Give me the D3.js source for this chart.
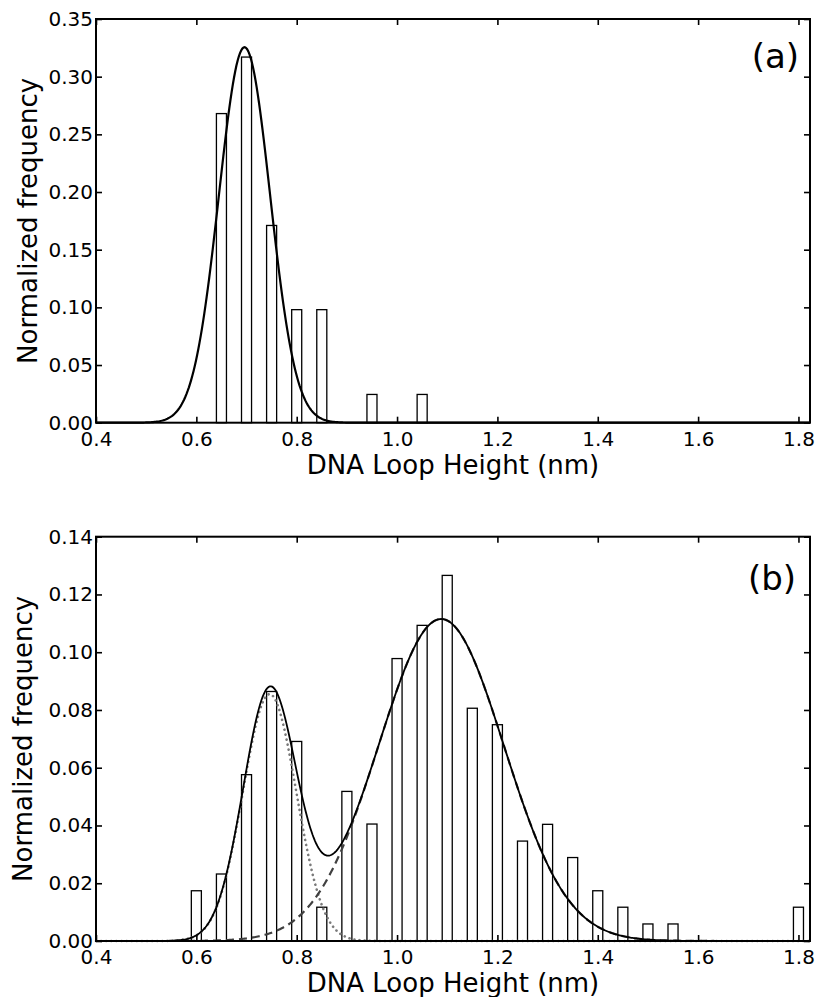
<!DOCTYPE html>
<html>
<head>
<meta charset="utf-8" />
<title>DNA Loop Height histograms</title>
<script src="https://d3js.org/d3.v7.js"></script>
<style>
  body { margin: 0; background: #fff; }
  svg text { font-family: "DejaVu Sans", sans-serif; fill: #000; }
</style>
</head>
<body>
<svg id="chart" width="816" height="997"></svg>
<script>

// ---- data ----
// panel (a): bin centres and normalized frequency
var binsA = [0.65, 0.70, 0.75, 0.80, 0.85, 0.95, 1.05];
var freqA = [0.268, 0.317, 0.171, 0.098, 0.098, 0.0245, 0.0245];
// single gaussian fit (a)
var fitA = {amp: 0.3255, mu: 0.696, sigma: 0.051};

// panel (b)
var binsB = [0.60, 0.65, 0.70, 0.75, 0.80, 0.85, 0.90, 0.95, 1.00, 1.05,
             1.10, 1.15, 1.20, 1.25, 1.30, 1.35, 1.40, 1.45, 1.50, 1.55, 1.80];
var freqB = [0.0174, 0.0232, 0.0576, 0.0864, 0.0691, 0.0117, 0.0518, 0.0405, 0.0978, 0.1093,
             0.1266, 0.0806, 0.0749, 0.0346, 0.0404, 0.0289, 0.0174, 0.0117, 0.0059, 0.0059, 0.0117];
// two gaussian components (b)
var fitB1 = {amp: 0.0855, mu: 0.746, sigma: 0.053};
var fitB2 = {amp: 0.1115, mu: 1.088, sigma: 0.125};

var xTicks = [0.4, 0.6, 0.8, 1.0, 1.2, 1.4, 1.6, 1.8];
var yTicksA = [0, 0.05, 0.10, 0.15, 0.20, 0.25, 0.30, 0.35];
var yTicksB = [0, 0.02, 0.04, 0.06, 0.08, 0.10, 0.12, 0.14];
var barWidth = 0.02;

var svg = d3.select("#chart");

function gauss(p, x) {
  return p.amp * Math.exp(-0.5 * Math.pow((x - p.mu) / p.sigma, 2));
}

function drawPanel(opt) {
  var left = 96, right = 810;
  var x = d3.scaleLinear().domain([0.4, 1.823]).range([left, right]);
  var y = d3.scaleLinear().domain([0, opt.ymax]).range([opt.bottom, opt.top]);
  var g = svg.append("g");

  // bars
  g.selectAll("rect.bar")
    .data(opt.bins)
    .enter()
    .append("rect")
    .attr("class", "bar")
    .attr("x", function(d) { return x(d - barWidth / 2); })
    .attr("width", function(d) { return x(d + barWidth / 2) - x(d - barWidth / 2); })
    .attr("y", function(d, i) { return y(opt.freq[i]); })
    .attr("height", function(d, i) { return y(0) - y(opt.freq[i]); })
    .attr("fill", "#fff")
    .attr("stroke", "#000")
    .attr("stroke-width", 1.3);

  // fitted curves
  var xs = d3.range(0, 601).map(function(i) { return 0.4 + i * (1.823 - 0.4) / 600; });
  opt.curves.forEach(function(c) {
    var line = d3.line()
      .x(function(d) { return x(d); })
      .y(function(d) { return y(c.f(d)); });
    g.append("path")
      .datum(xs)
      .attr("d", line)
      .attr("fill", "none")
      .attr("stroke", c.color)
      .attr("stroke-width", c.width)
      .attr("stroke-dasharray", c.dash || null)
      .attr("stroke-linecap", c.cap || "butt");
  });

  // axes, ticks pointing inward
  var fmt = d3.format(".2f");
  var ax = [
    {a: d3.axisBottom(x).tickValues(xTicks).tickSize(-6).tickPadding(9).tickFormat(d3.format(".1f")), t: "translate(0," + opt.bottom + ")"},
    {a: d3.axisTop(x).tickValues(xTicks).tickSize(-6).tickFormat(""), t: "translate(0," + opt.top + ")"},
    {a: d3.axisLeft(y).tickValues(opt.yTicks).tickSize(-6).tickPadding(3).tickFormat(fmt), t: "translate(" + left + ",0)"},
    {a: d3.axisRight(y).tickValues(opt.yTicks).tickSize(-6).tickFormat(""), t: "translate(" + right + ",0)"}
  ];
  ax.forEach(function(o) {
    var s = g.append("g").attr("transform", o.t).call(o.a);
    s.select(".domain").remove();
    s.selectAll("line").attr("stroke", "#000").attr("stroke-width", 1.6);
    s.selectAll("text").attr("font-size", 20).attr("font-family", "DejaVu Sans").attr("fill", "#000");
  });

  // frame
  g.append("rect")
    .attr("x", left).attr("y", opt.top)
    .attr("width", right - left).attr("height", opt.bottom - opt.top)
    .attr("fill", "none").attr("stroke", "#000").attr("stroke-width", 2);

  // labels
  g.append("text")
    .attr("x", (left + right) / 2).attr("y", opt.bottom + 51)
    .attr("text-anchor", "middle").attr("font-size", 26)
    .text("DNA Loop Height (nm)");
  g.append("text")
    .attr("transform", "translate(" + opt.ylabX + "," + (opt.top + opt.bottom) / 2 + ") rotate(-90)")
    .attr("text-anchor", "middle").attr("font-size", 26)
    .text("Normalized frequency");
  g.append("text")
    .attr("x", opt.tagX).attr("y", opt.tagY)
    .attr("text-anchor", "end").attr("font-size", 34)
    .text(opt.tag);
}

drawPanel({
  top: 19, bottom: 422.7, ymax: 0.35,
  bins: binsA, freq: freqA, yTicks: yTicksA,
  curves: [
    {f: function(v) { return gauss(fitA, v); }, color: "#000", width: 2.2}
  ],
  ylabX: 37, tag: "(a)", tagX: 799, tagY: 68
});

drawPanel({
  top: 536.7, bottom: 941, ymax: 0.14,
  bins: binsB, freq: freqB, yTicks: yTicksB,
  curves: [
    {f: function(v) { return gauss(fitB1, v); }, color: "#7a7a7a", width: 2.6, dash: "0.1 5", cap: "round"},
    {f: function(v) { return gauss(fitB2, v); }, color: "#404040", width: 2.2, dash: "8 5"},
    {f: function(v) { return gauss(fitB1, v) + gauss(fitB2, v); }, color: "#000", width: 1.8}
  ],
  ylabX: 32, tag: "(b)", tagX: 796, tagY: 590
});

</script>
</body>
</html>
